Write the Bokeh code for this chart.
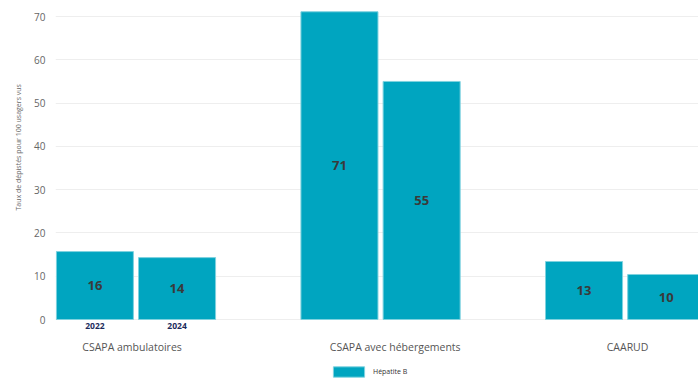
from bokeh.plotting import figure
from bokeh.models import (ColumnDataSource, Range1d, FixedTicker, Title,
                          Legend, LegendItem)
from bokeh.embed import file_html
from bokeh.resources import INLINE
from bokeh.core.properties import value

# ---- data ----
categories = ["CSAPA ambulatoires", "CSAPA avec hébergements", "CAARUD"]
years = ["2022", "2024"]
values_2022 = [15.7, 71.1, 13.4]
values_2024 = [14.3, 55.0, 10.4]
labels_2022 = ["16", "71", "13"]
labels_2024 = ["14", "55", "10"]
series_name = "Hépatite B"
y_ticks = [0, 10, 20, 30, 40, 50, 60, 70]
y_title = "Taux de dépistés pour 100 usagers vus"

# ---- layout constants ----
BAR_W = 0.315
OFFSET = 0.168
COLOR = "#00a5c0"
FONT = "Open Sans"
CAT_LABEL_X = [-0.016, 1.06, 2.01]

xs, tops, labs = [], [], []
for i in range(len(categories)):
    xs += [i - OFFSET, i + OFFSET]
    tops += [values_2022[i], values_2024[i]]
    labs += [labels_2022[i], labels_2024[i]]
src = ColumnDataSource(dict(x=xs, top=tops, mid=[t / 2 for t in tops], lab=labs))

p = figure(width=698, height=381, output_backend="svg", toolbar_location=None,
           x_range=Range1d(-0.329, 2.30), y_range=Range1d(-14.32, 73.7),
           min_border_left=55, min_border_right=0, min_border_top=0,
           min_border_bottom=0)
p.outline_line_color = None
p.background_fill_color = "white"
p.border_fill_color = "white"
p.xaxis.visible = False

bars = p.vbar(x="x", top="top", width=BAR_W, bottom=0, source=src,
              fill_color=COLOR, line_color="#7fd2df", line_width=1)
p.text(x="x", y="mid", text="lab", source=src, text_align="center",
       text_baseline="middle", text_font=value(FONT), text_font_style="bold",
       text_font_size="13px", text_color="#3a3a3a")

# year labels under the first group
p.text(x=[-OFFSET, OFFSET], y=[0, 0], text=years, y_offset=6,
       text_align="center", text_baseline="middle", text_font=value(FONT),
       text_font_style="bold", text_font_size="8.5px", text_color="#1c2b5c")

# category labels
p.text(x=CAT_LABEL_X, y=[0, 0, 0], text=categories, y_offset=27,
       text_align="center", text_baseline="middle", text_font=value(FONT),
       text_font_size="10.5px", text_color="#555555")

# y axis
p.yaxis.ticker = FixedTicker(ticks=y_ticks)
p.yaxis.axis_line_color = None
p.yaxis.major_tick_line_color = None
p.yaxis.minor_tick_line_color = None
p.yaxis.major_tick_out = 0
p.yaxis.major_label_text_font = FONT
p.yaxis.major_label_text_font_size = "10px"
p.yaxis.major_label_text_color = "#666666"
p.yaxis.major_label_standoff = 10
p.ygrid.grid_line_color = "#eeeeee"
p.xgrid.grid_line_color = None

p.add_layout(Title(text=y_title, align="left", offset=171,
                   text_font=FONT, text_font_size="7px",
                   text_font_style="normal", text_color="#666666",
                   standoff=18), "left")

legend = Legend(items=[LegendItem(label=series_name, renderers=[bars])],
                location=(274, 3), orientation="horizontal",
                glyph_width=39, glyph_height=13, label_text_font=FONT,
                label_text_font_size="7px", label_text_color="#333333",
                background_fill_alpha=0, border_line_color=None,
                padding=0, margin=0, label_standoff=5, label_height=13)
p.add_layout(legend, "center")

open("out.html", "w").write(file_html(p, INLINE))
